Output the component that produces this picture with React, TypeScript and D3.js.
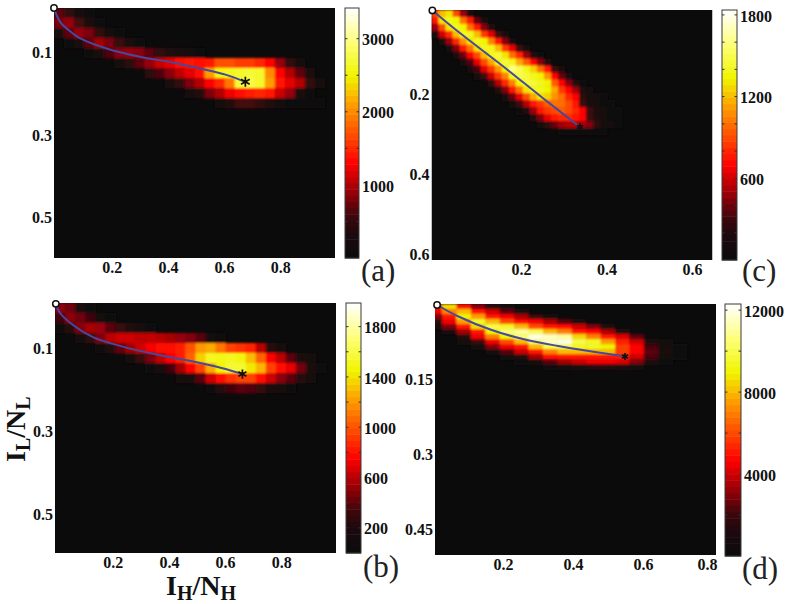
import React, { useEffect, useRef } from 'react';
import * as d3 from 'd3';

type Row = [number, number[]];

// sparse heat rows: [first index, counts...]
const heatA: Row[] = [
  [0, [700, 500, 200, 60]],
  [0, [800, 900, 600, 300, 100]],
  [0, [300, 700, 900, 800, 500, 200, 50]],
  [1, [80, 300, 700, 950, 800, 550, 300, 120]],
  [3, [120, 350, 650, 850, 900, 850, 700, 500, 380, 300, 180, 80]],
  [6, [200, 450, 700, 900, 1100, 1200, 1350, 1400, 1350, 1400, 1700, 1700, 1600, 1600, 1500, 1300, 900, 500, 250]],
  [9, [450, 650, 850, 1050, 1200, 1350, 2100, 2550, 2600, 2650, 2700, 2650, 2000, 1300, 1000, 700, 300]],
  [11, [300, 500, 800, 1000, 1300, 1500, 1900, 2700, 2750, 2650, 2100, 1400, 1200, 1000, 500, 200]],
  [13, [200, 400, 800, 1000, 1250, 1350, 1450, 1500, 1400, 1100, 900, 350, 100]],
  [16, [150, 400, 600, 600, 500, 400, 250, 120, 60, 60, 60]],
];
const heatB: Row[] = [
  [0, [500, 450, 200, 60]],
  [0, [350, 500, 450, 350, 150, 50]],
  [0, [50, 250, 480, 560, 540, 400, 320, 230, 110, 40]],
  [2, [80, 280, 480, 600, 650, 650, 620, 620, 600, 560, 520, 480, 400, 120, 50]],
  [4, [60, 220, 420, 550, 650, 740, 780, 800, 840, 1000, 1200, 1250, 1100, 950, 900, 850, 600, 250, 100]],
  [7, [120, 300, 470, 620, 760, 840, 1050, 1350, 1520, 1500, 1530, 1480, 1300, 1050, 750, 600, 400, 200, 80]],
  [9, [60, 150, 350, 550, 750, 950, 1250, 1450, 1560, 1560, 1420, 1280, 950, 800, 700, 450, 200, 50]],
  [12, [80, 200, 400, 650, 800, 900, 950, 950, 800, 650, 500, 400, 250, 120]],
  [15, [60, 250, 350, 400, 380, 300, 200, 120, 50]],
];
const heatC: Row[] = [
  [0, [900, 1200, 1300, 900, 500, 150]],
  [0, [750, 1300, 1400, 1350, 1000, 750, 400, 150]],
  [0, [500, 900, 1300, 1400, 1350, 1000, 750, 450, 200]],
  [0, [150, 600, 800, 1200, 1400, 1400, 1200, 850, 650, 300, 100]],
  [1, [150, 500, 800, 1100, 1300, 1400, 1350, 1050, 750, 450, 100]],
  [2, [150, 450, 750, 1000, 1300, 1400, 1400, 1200, 850, 650, 300, 80]],
  [3, [100, 400, 700, 900, 1200, 1400, 1450, 1300, 1000, 800, 500, 200, 50]],
  [4, [100, 350, 650, 900, 1150, 1400, 1450, 1400, 1150, 950, 700, 450, 200]],
  [5, [80, 350, 650, 850, 1100, 1350, 1600, 1500, 1400, 1250, 1000, 750, 300, 100]],
  [6, [80, 300, 600, 850, 1050, 1400, 1500, 1450, 1400, 1350, 1100, 700, 400, 150]],
  [8, [250, 550, 800, 1050, 1350, 1450, 1450, 1400, 1350, 950, 700, 450, 200, 70]],
  [9, [200, 450, 750, 1000, 1300, 1400, 1400, 1350, 1150, 850, 700, 500, 200, 80]],
  [10, [150, 400, 650, 900, 1150, 1300, 1250, 1100, 1000, 800, 700, 250, 120, 80, 50]],
  [11, [100, 300, 550, 750, 850, 950, 1000, 1000, 900, 750, 300, 180, 100, 70, 50]],
  [12, [60, 200, 500, 750, 850, 900, 950, 900, 800, 700, 300, 180, 120, 70, 50]],
  [14, [200, 450, 650, 750, 800, 800, 750, 700, 300, 200, 120, 70, 50]],
  [15, [100, 250, 400, 500, 550, 550, 500, 450, 250, 150, 100, 60]],
  [18, [60, 60, 60, 60, 50, 50, 40]],
];
// panel d is stepped by column, so these entries run down one column each
const heatD: Row[] = [
  [0, [5000, 4500, 3000, 1500, 500]],
  [0, [8500, 7000, 5000, 4500, 3000, 1000]],
  [0, [5000, 8000, 9000, 7500, 5000, 3500, 1500, 500]],
  [0, [3000, 5000, 7500, 9500, 8500, 5000, 4500, 2000, 500]],
  [0, [1500, 4000, 5000, 8000, 10000, 9000, 7000, 4500, 3000, 800]],
  [0, [500, 2500, 4500, 6000, 9500, 10500, 9000, 6000, 4500, 2500, 500]],
  [1, [1200, 3500, 4800, 8000, 11000, 10500, 8000, 5000, 4000, 1500, 300]],
  [2, [2000, 4500, 6000, 10000, 12000, 10500, 8000, 5000, 3500, 1000]],
  [2, [1000, 3500, 5000, 8000, 11500, 11500, 10000, 7000, 4800, 2500, 400]],
  [3, [2500, 4800, 7000, 11000, 12000, 10000, 8000, 5000, 3500, 800]],
  [3, [1200, 4000, 5000, 8500, 10000, 9500, 8000, 5000, 4000, 1200]],
  [4, [3000, 4700, 7000, 9500, 9500, 8000, 5000, 4500, 1500]],
  [4, [1200, 3500, 5000, 7500, 9000, 8000, 5000, 4500, 1500]],
  [5, [1500, 4200, 5200, 5800, 5800, 5200, 4200, 1200]],
  [6, [2500, 4000, 4700, 4700, 4000, 3000, 800]],
  [7, [1200, 2200, 2500, 2300, 1200]],
  [7, [500, 1000, 1100, 900, 400]],
  [8, [300, 400, 300]],
];

const curveAx = [0, 0.021, 0.051, 0.092, 0.187, 0.305, 0.422, 0.528, 0.613, 0.681];
const curveAy = [0, 0.033, 0.053, 0.073, 0.098, 0.118, 0.132, 0.148, 0.162, 0.179];
const curveBx = [0.003, 0.018, 0.064, 0.135, 0.241, 0.362, 0.479, 0.596, 0.667];
const curveBy = [0.002, 0.024, 0.053, 0.082, 0.105, 0.124, 0.139, 0.157, 0.171];
const curveCx = [0.002, 0.0665, 0.176, 0.26, 0.347];
const curveCy = [0.001, 0.0575, 0.148, 0.22, 0.2925];
const curveDx = [0.006, 0.067, 0.162, 0.257, 0.352, 0.448, 0.543];
const curveDy = [0.002, 0.025, 0.052, 0.071, 0.084, 0.095, 0.105];

const xTicksWide = [0.2, 0.4, 0.6, 0.8];
const xTicksC = [0.2, 0.4, 0.6];
const yTicksAB = [0.1, 0.3, 0.5];
const yTicksC = [0.2, 0.4, 0.6];
const yTicksD = [0.15, 0.3, 0.45];
const barTicksA = [1000, 2000, 3000];
const barTicksB = [200, 600, 1000, 1400, 1800];
const barTicksC = [600, 1200, 1800];
const barTicksD = [4000, 8000, 12000];

const panels = [
  {
    name: '(a)', heat: heatA, cx: curveAx, cy: curveAy, xTicks: xTicksWide, yTicks: yTicksAB, barTicks: barTicksA,
    left: 54, top: 8, w: 281, h: 250, xMax: 1, yMax: 0.606, barMax: 3420, minor: 500,
    cols: 28, rows: 25, cellOffset: 0, byColumn: false, blur: 1.2, yFmt: '.1f',
    xShift: 1.5, yShift: 3.5, barLeft: 345, barW: 14, barTop: 8, barH: 250, nameX: 361, nameY: 281, star: 70,
  },
  {
    name: '(b)', heat: heatB, cx: curveBx, cy: curveBy, xTicks: xTicksWide, yTicks: yTicksAB, barTicks: barTicksB,
    left: 55, top: 303, w: 281, h: 250, xMax: 1, yMax: 0.602, barMax: 1988, minor: 200,
    cols: 28, rows: 25, cellOffset: 0, byColumn: false, blur: 1.2, yFmt: '.1f',
    xShift: 1.5, yShift: 3.5, barLeft: 346, barW: 15, barTop: 303, barH: 250, nameX: 363, nameY: 577, star: 60,
  },
  {
    name: '(c)', heat: heatC, cx: curveCx, cy: curveCy, xTicks: xTicksC, yTicks: yTicksC, barTicks: barTicksC,
    left: 431.5, top: 10, w: 281, h: 250, xMax: 0.657, yMax: 0.625, barMax: 1836, minor: 200,
    cols: 40, rows: 36, cellOffset: 0, byColumn: false, blur: 0.9, yFmt: '.1f',
    xShift: 4, yShift: 4, barLeft: 722, barW: 15, barTop: 10, barH: 250, nameX: 742, nameY: 281, star: 34,
  },
  {
    name: '(d)', heat: heatD, cx: curveDx, cy: curveDy, xTicks: xTicksWide, yTicks: yTicksD, barTicks: barTicksD,
    left: 435, top: 304, w: 281, h: 251, xMax: 0.803, yMax: 0.502, barMax: 12300, minor: 2000,
    cols: 20, rows: 50, cellOffset: -7.33, byColumn: true, blur: 1.2, yFmt: '',
    xShift: -2, yShift: 0, barLeft: 725, barW: 16, barTop: 304, barH: 252, nameX: 742, nameY: 579, star: 34,
  },
];

// hot colormap as it looks in the colour bars
const hot = d3.scaleLinear<string>()
  .domain([0, 0.1, 0.17, 0.25, 0.38, 0.6, 0.73, 0.87, 1])
  .range(['#0b0b0b', '#1c0a0f', '#3d070c', '#8a0008', '#ff0000', '#ff9400', '#f0f500', '#ffff80', '#ffffff'])
  .clamp(true);

const serif = '"Liberation Serif", serif';

const App = () => {
  const ref = useRef<SVGSVGElement>(null);

  useEffect(() => {
    const svg = d3.select(ref.current);
    svg.selectAll('*').remove();
    const defs = svg.append('defs');

    panels.forEach((p, pi) => {
      const x = d3.scaleLinear().domain([0, p.xMax]).range([p.left, p.left + p.w]);
      const y = d3.scaleLinear().domain([0, p.yMax]).range([p.top, p.top + p.h]);
      const barY = d3.scaleLinear().domain([0, p.barMax]).range([p.barTop + p.barH, p.barTop]);
      const cellW = p.w / (p.cols - (p.cellOffset ? 0.5 : 0));
      const colX = d3.scaleLinear().domain([0, 1]).range([p.left + p.cellOffset, p.left + p.cellOffset + cellW]);
      const rowY = d3.scaleLinear().domain([0, 1]).range([p.top, p.top + p.h / p.rows]);
      const g = svg.append('g');

      defs.append('clipPath').attr('id', `clip${pi}`)
        .append('rect').attr('x', p.left).attr('y', p.top).attr('width', p.w).attr('height', p.h);
      defs.append('filter').attr('id', `soft${pi}`)
        .attr('x', '-5%').attr('y', '-5%').attr('width', '110%').attr('height', '110%')
        .append('feGaussianBlur').attr('stdDeviation', p.blur);

      const cells = p.heat.flatMap(([start, vals], line) =>
        vals.map((v, k) => (p.byColumn ? { c: line, r: start + k, v } : { c: start + k, r: line, v })));

      const plot = g.append('g').attr('clip-path', `url(#clip${pi})`);
      plot.append('rect').attr('x', p.left).attr('y', p.top).attr('width', p.w).attr('height', p.h)
        .attr('fill', hot(0));
      plot.append('g').attr('filter', `url(#soft${pi})`)
        .selectAll('rect').data(cells).join('rect')
        .attr('x', (d) => colX(d.c))
        .attr('y', (d) => rowY(d.r))
        .attr('width', colX(1) - colX(0) + 0.5)
        .attr('height', rowY(1) - rowY(0) + 0.5)
        .attr('fill', (d) => hot(d.v / p.barMax));

      // trajectory, start circle and end star
      const pts = p.cx.map((v, i) => [v, p.cy[i]] as [number, number]);
      const line = d3.line<[number, number]>().x((d) => x(d[0])).y((d) => y(d[1])).curve(d3.curveCatmullRom);
      g.append('path').attr('d', line(pts)).attr('fill', 'none')
        .attr('stroke', '#45499f').attr('stroke-width', 2);
      const last = pts[pts.length - 1];
      g.append('path')
        .attr('d', d3.symbol(d3.symbolAsterisk, p.star)())
        .attr('transform', `translate(${x(last[0])},${y(last[1])})`)
        .attr('fill', 'none').attr('stroke', '#111').attr('stroke-width', 1.7);
      g.append('circle').attr('cx', x(pts[0][0])).attr('cy', y(pts[0][1])).attr('r', 3.2)
        .attr('fill', '#fff').attr('stroke', '#111').attr('stroke-width', 1.5);

      // axes: ticks vanish on the black image, only the labels show
      const xAxis = d3.axisBottom(x).tickValues(p.xTicks).tickSize(0).tickPadding(4).tickFormat(d3.format('.1f') as any);
      const xg = g.append('g')
        .attr('transform', `translate(${p.xShift},${p.top + p.h})`).call(xAxis);
      const yAxis = d3.axisLeft(y).tickValues(p.yTicks).tickSize(0).tickPadding(2)
        .tickFormat((p.yFmt ? d3.format(p.yFmt) : (d: any) => String(d)) as any);
      const yg = g.append('g')
        .attr('transform', `translate(${p.left},${p.yShift})`).call(yAxis);
      [xg, yg].forEach((a) => {
        a.select('.domain').remove();
        a.selectAll('text').attr('font-family', serif).attr('font-size', 16)
          .attr('font-weight', 'bold').attr('fill', '#111');
      });
      if (p.name === '(d)') {
        // last label of (d) is pulled in so it stops at the image edge
        xg.selectAll<SVGTextElement, number>('text').filter((d) => d === 0.8).attr('dx', -6);
      }

      // colour bar
      const bands = d3.range(40);
      const barG = g.append('g');
      barG.selectAll('rect').data(bands).join('rect')
        .attr('x', p.barLeft)
        .attr('y', (i) => barY(((i + 1) / 40) * p.barMax))
        .attr('width', p.barW)
        .attr('height', p.barH / 40 + 0.5)
        .attr('fill', (i) => hot((i + 0.5) / 40));
      barG.append('rect').attr('x', p.barLeft).attr('y', p.barTop).attr('width', p.barW).attr('height', p.barH)
        .attr('fill', 'none').attr('stroke', '#3a3a3a').attr('stroke-width', 1);
      const minorTicks = d3.range(p.minor, p.barMax, p.minor);
      barG.selectAll('line.minor').data(minorTicks).join('line').attr('class', 'minor')
        .attr('x1', p.barLeft).attr('x2', p.barLeft + 2.5)
        .attr('y1', (d) => barY(d)).attr('y2', (d) => barY(d)).attr('stroke', '#333');
      barG.selectAll('line.minorR').data(minorTicks).join('line').attr('class', 'minorR')
        .attr('x1', p.barLeft + p.barW - 2.5).attr('x2', p.barLeft + p.barW)
        .attr('y1', (d) => barY(d)).attr('y2', (d) => barY(d)).attr('stroke', '#333');
      const barAxis = d3.axisRight(barY).tickValues(p.barTicks).tickSize(0).tickPadding(3).tickFormat(d3.format('d') as any);
      const bg = g.append('g').attr('transform', `translate(${p.barLeft + p.barW},1)`).call(barAxis);
      bg.select('.domain').remove();
      bg.selectAll('text').attr('font-family', serif).attr('font-size', 16)
        .attr('font-weight', 'bold').attr('fill', '#111');

      g.append('text').attr('x', p.nameX).attr('y', p.nameY).text(p.name)
        .attr('font-family', serif).attr('font-size', 31).attr('fill', '#222');
    });

    // axis titles belong to the lower left panel
    const title = (t: d3.Selection<SVGTextElement, unknown, null, undefined>, a: string, b: string) => {
      t.attr('font-family', serif).attr('font-weight', 'bold').attr('font-size', 28).attr('fill', '#111');
      t.append('tspan').text('I');
      t.append('tspan').text(a).attr('font-size', 20).attr('dy', 5);
      t.append('tspan').text('/N').attr('dy', -5);
      t.append('tspan').text(b).attr('font-size', 20).attr('dy', 5);
    };
    title(svg.append('text').attr('x', 166).attr('y', 595) as any, 'H', 'H');
    title(svg.append('text').attr('transform', 'translate(25,462) rotate(-90)') as any, 'L', 'L');
  }, []);

  return (
    <svg
      ref={ref}
      width={789}
      height={604}
      style={{ position: 'absolute', left: 0, top: 0, background: '#fff' }}
    />
  );
};

export default App;
